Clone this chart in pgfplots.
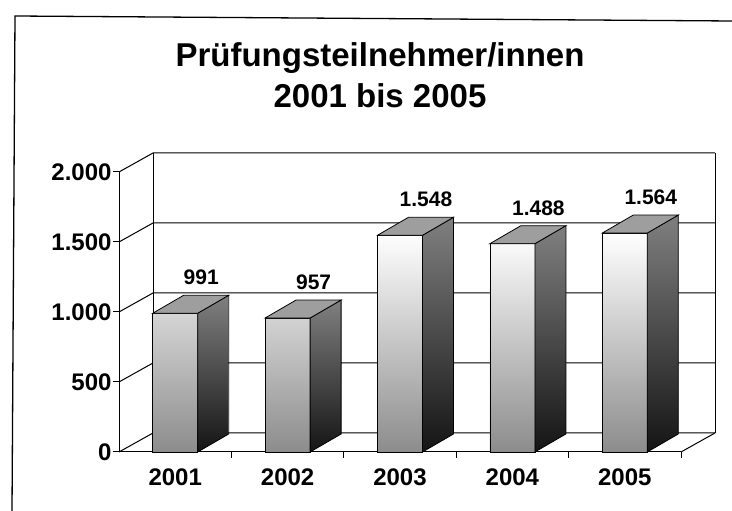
\documentclass[border=0pt]{standalone}
\usepackage{pgfplots}
\pgfplotsset{compat=1.18}
\usepackage{fontspec}
\setmainfont{Liberation Sans}
\pgfdeclareplotmark{box3d}{%
  \pgfmathsetlengthmacro\hh{\rawy*0.14bp}%
  \shade[top color=black!50,bottom color=black!92,draw=black,line width=0.8pt]
    (22.5bp,0pt) -- ++(31bp,18bp) -- ++(0pt,-\hh) -- ++(-31bp,-18bp) -- cycle;
  \filldraw[fill=black!38,draw=black,line width=0.8pt]
    (-22.5bp,0pt) -- ++(31bp,18bp) -- ++(45bp,0pt) -- ++(-31bp,-18bp) -- cycle;
}
\begin{document}
\begin{tikzpicture}
\useasboundingbox (0,0) rectangle (732bp,511bp);
\draw[line width=1.3bp] (12bp,0bp) -- (15bp,495bp) -- (732bp,490bp);
\node[font=\fontsize{33bp}{40bp}\selectfont\bfseries, anchor=base] at (380bp,444bp) {Prüfungsteilnehmer/innen};
\node[font=\fontsize{33bp}{40bp}\selectfont\bfseries, anchor=base] at (380bp,403bp) {2001 bis 2005};
\begin{axis}[
  at={(119bp,59bp)}, anchor=south west,
  scale only axis, width=562bp, height=280bp,
  xmin=-0.5, xmax=4.5, ymin=0, ymax=2000,
  axis x line*=bottom, axis y line*=left,
  axis line style={line width=1bp, -},
  xtick={0.5,1.5,2.5,3.5,4.5}, xticklabels={},
  extra x ticks={0,1,2,3,4},
  extra x tick labels={2001,2002,2003,2004,2005},
  extra x tick style={major tick length=0pt, xticklabel style={yshift=-13bp}},
  ytick={0,500,1000,1500,2000},
  tick align=outside, major tick length=6bp,
  tick style={line width=1bp, black},
  ticklabel style={font=\fontsize{24bp}{28bp}\selectfont\bfseries},
  yticklabel style={xshift=2bp},
  /pgf/number format/assume math mode=true,
  /pgf/number format/1000 sep={.},
  clip=false,
]
\pgfplotsinvokeforeach{0,500,1000,1500,2000}{
  \draw[line width=1bp] (axis cs:-0.5,#1) -- ++(34bp,19bp) -- ([shift={(34bp,19bp)}]axis cs:4.5,#1);
}
\draw[line width=1bp] ([shift={(34bp,19bp)}]axis cs:-0.5,0) -- ([shift={(34bp,19bp)}]axis cs:-0.5,2000);
\draw[line width=1bp] ([shift={(34bp,19bp)}]axis cs:4.5,0) -- ([shift={(34bp,19bp)}]axis cs:4.5,2000);
\draw[line width=1bp] (axis cs:4.5,0) -- ++(34bp,19bp);
\addplot[only marks, mark=box3d, visualization depends on={rawy \as \rawy}]
  coordinates {(0,991) (1,957) (2,1548) (3,1488) (4,1564)};
\addplot[ybar, bar width=45bp, draw=black, line width=0.8pt,
  top color=white, middle color=black!8, bottom color=black!45,
  nodes near coords,
  nodes near coords style={font=\fontsize{21bp}{25bp}\selectfont\bfseries, anchor=south, inner sep=0pt, xshift=26bp, yshift=28bp, text=black}]
  coordinates {(0,991) (1,957) (2,1548) (3,1488) (4,1564)};
\end{axis}
\end{tikzpicture}
\end{document}
